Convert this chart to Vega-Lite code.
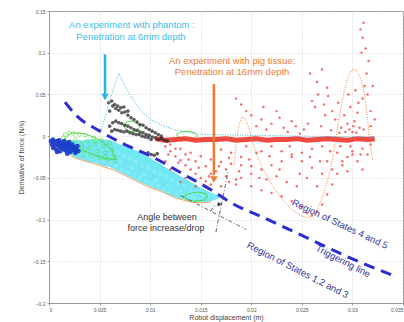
{
  "$schema": "https://vega.github.io/schema/vega-lite/v6.json",
  "width": 354,
  "height": 292,
  "autosize": "none",
  "padding": {"left": 49, "top": 11, "right": 1, "bottom": 19},
  "background": "white",
  "config": {
    "view": {"stroke": "#999", "strokeWidth": 1},
    "axis": {
      "gridColor": "#c8c8c8", "gridDash": [1, 2], "gridWidth": 0.8,
      "labelFontSize": 5, "labelColor": "#555", "labelFont": "Liberation Sans",
      "titleFontSize": 7, "titleFontWeight": "normal", "titleColor": "#444", "titleFont": "Liberation Sans",
      "domainColor": "#999", "tickColor": "#999", "tickSize": 2
    }
  },
  "encoding": {
    "x": {"field": "x", "type": "quantitative",
      "scale": {"domain": [0, 0.035], "nice": false, "zero": false},
      "axis": {"title": "Robot displacement (m)", "values": [0, 0.005, 0.01, 0.015, 0.02, 0.025, 0.03, 0.035], "format": "~g", "labelPadding": 2, "titlePadding": 1}},
    "y": {"field": "y", "type": "quantitative",
      "scale": {"domain": [-0.2, 0.15], "nice": false, "zero": false},
      "axis": {"title": "Derivative of force (N/s)", "values": [-0.2, -0.15, -0.1, -0.05, 0, 0.05, 0.1, 0.15], "format": "~g", "labelPadding": 2, "titlePadding": 8}}
  },
  "datasets": {
    "cyanband": [
      {"x": 0.0010, "y": -0.006, "y2": -0.012}, {"x": 0.0015, "y": -0.005, "y2": -0.018},
      {"x": 0.0020, "y": -0.005, "y2": -0.021}, {"x": 0.0025, "y": -0.005, "y2": -0.025},
      {"x": 0.0030, "y": -0.005, "y2": -0.027}, {"x": 0.0035, "y": -0.005, "y2": -0.029},
      {"x": 0.0040, "y": -0.004, "y2": -0.031}, {"x": 0.0045, "y": -0.004, "y2": -0.032},
      {"x": 0.0050, "y": -0.004, "y2": -0.034}, {"x": 0.0055, "y": -0.004, "y2": -0.036},
      {"x": 0.0060, "y": -0.005, "y2": -0.037}, {"x": 0.0065, "y": -0.007, "y2": -0.040},
      {"x": 0.0070, "y": -0.010, "y2": -0.043}, {"x": 0.0075, "y": -0.012, "y2": -0.046},
      {"x": 0.0080, "y": -0.014, "y2": -0.049}, {"x": 0.0085, "y": -0.017, "y2": -0.052},
      {"x": 0.0090, "y": -0.019, "y2": -0.055}, {"x": 0.0095, "y": -0.023, "y2": -0.058},
      {"x": 0.0100, "y": -0.026, "y2": -0.060}, {"x": 0.0105, "y": -0.030, "y2": -0.063},
      {"x": 0.0110, "y": -0.033, "y2": -0.065}, {"x": 0.0115, "y": -0.037, "y2": -0.068},
      {"x": 0.0120, "y": -0.041, "y2": -0.071}, {"x": 0.0125, "y": -0.044, "y2": -0.073},
      {"x": 0.0130, "y": -0.048, "y2": -0.075}, {"x": 0.0135, "y": -0.051, "y2": -0.076},
      {"x": 0.0140, "y": -0.055, "y2": -0.078}, {"x": 0.0145, "y": -0.058, "y2": -0.079},
      {"x": 0.0150, "y": -0.062, "y2": -0.079}, {"x": 0.0155, "y": -0.065, "y2": -0.079},
      {"x": 0.0160, "y": -0.068, "y2": -0.078}, {"x": 0.0165, "y": -0.070, "y2": -0.076},
      {"x": 0.0170, "y": -0.071, "y2": -0.073}
    ],
    "cyanpts": [
      {"x": 0.0012, "y": -0.009}, {"x": 0.0018, "y": -0.014}, {"x": 0.0024, "y": -0.018}, {"x": 0.0030, "y": -0.020},
      {"x": 0.0036, "y": -0.022}, {"x": 0.0042, "y": -0.026}, {"x": 0.0048, "y": -0.029}, {"x": 0.0054, "y": -0.031},
      {"x": 0.0060, "y": -0.033}, {"x": 0.0066, "y": -0.036}, {"x": 0.0072, "y": -0.040}, {"x": 0.0078, "y": -0.044},
      {"x": 0.0084, "y": -0.047}, {"x": 0.0090, "y": -0.050}, {"x": 0.0096, "y": -0.054}, {"x": 0.0102, "y": -0.057},
      {"x": 0.0108, "y": -0.060}, {"x": 0.0114, "y": -0.063}, {"x": 0.0120, "y": -0.066}, {"x": 0.0126, "y": -0.069},
      {"x": 0.0132, "y": -0.071}, {"x": 0.0138, "y": -0.073}, {"x": 0.0144, "y": -0.075}, {"x": 0.0150, "y": -0.076},
      {"x": 0.0068, "y": -0.020}, {"x": 0.0074, "y": -0.024}, {"x": 0.0080, "y": -0.027}, {"x": 0.0086, "y": -0.031},
      {"x": 0.0092, "y": -0.035}, {"x": 0.0098, "y": -0.038}, {"x": 0.0104, "y": -0.042}, {"x": 0.0110, "y": -0.046},
      {"x": 0.0116, "y": -0.049}, {"x": 0.0122, "y": -0.053}, {"x": 0.0128, "y": -0.057}, {"x": 0.0134, "y": -0.060},
      {"x": 0.0140, "y": -0.064}, {"x": 0.0146, "y": -0.067}, {"x": 0.0152, "y": -0.070}, {"x": 0.0158, "y": -0.072},
      {"x": 0.0164, "y": -0.073}, {"x": 0.0070, "y": -0.030}, {"x": 0.0082, "y": -0.038}, {"x": 0.0094, "y": -0.046},
      {"x": 0.0106, "y": -0.053}, {"x": 0.0118, "y": -0.059}, {"x": 0.0130, "y": -0.066}, {"x": 0.0142, "y": -0.071}
    ],
    "orangeedge": [
      {"x": 0.0010, "y": -0.013}, {"x": 0.0025, "y": -0.026}, {"x": 0.0050, "y": -0.035}, {"x": 0.0065, "y": -0.041},
      {"x": 0.0080, "y": -0.050}, {"x": 0.0095, "y": -0.059}, {"x": 0.0110, "y": -0.066}, {"x": 0.0125, "y": -0.074},
      {"x": 0.0140, "y": -0.079}, {"x": 0.0150, "y": -0.080}, {"x": 0.0160, "y": -0.079}
    ],
    "blue": [
      {"x": 0.0002, "y": -0.006}, {"x": 0.0003, "y": -0.010}, {"x": 0.0004, "y": -0.014}, {"x": 0.0005, "y": -0.007},
      {"x": 0.0006, "y": -0.011}, {"x": 0.0007, "y": -0.016}, {"x": 0.0008, "y": -0.006}, {"x": 0.0009, "y": -0.010},
      {"x": 0.0010, "y": -0.013}, {"x": 0.0011, "y": -0.018}, {"x": 0.0012, "y": -0.008}, {"x": 0.0013, "y": -0.012},
      {"x": 0.0014, "y": -0.015}, {"x": 0.0015, "y": -0.010}, {"x": 0.0016, "y": -0.017}, {"x": 0.0017, "y": -0.013},
      {"x": 0.0018, "y": -0.009}, {"x": 0.0019, "y": -0.016}, {"x": 0.0020, "y": -0.012}, {"x": 0.0021, "y": -0.019},
      {"x": 0.0022, "y": -0.014}, {"x": 0.0023, "y": -0.010}, {"x": 0.0024, "y": -0.017}, {"x": 0.0025, "y": -0.013},
      {"x": 0.0026, "y": -0.020}, {"x": 0.0027, "y": -0.016}, {"x": 0.0028, "y": -0.012}, {"x": 0.0029, "y": -0.018},
      {"x": 0.0004, "y": -0.004}, {"x": 0.0010, "y": -0.005}, {"x": 0.0015, "y": -0.006}, {"x": 0.0020, "y": -0.007},
      {"x": 0.0008, "y": -0.019}, {"x": 0.0018, "y": -0.021}
    ],
    "green": [
      {"x": 0.0010, "y": -0.006}, {"x": 0.0012, "y": -0.012}, {"x": 0.0014, "y": -0.002}, {"x": 0.0016, "y": 0.002},
      {"x": 0.0018, "y": -0.008}, {"x": 0.0020, "y": 0.004}, {"x": 0.0022, "y": -0.015}, {"x": 0.0024, "y": 0.003},
      {"x": 0.0026, "y": -0.004}, {"x": 0.0028, "y": -0.018}, {"x": 0.0030, "y": 0.002}, {"x": 0.0032, "y": -0.010},
      {"x": 0.0034, "y": -0.022}, {"x": 0.0036, "y": 0.001}, {"x": 0.0038, "y": -0.006}, {"x": 0.0040, "y": -0.014},
      {"x": 0.0042, "y": -0.024}, {"x": 0.0044, "y": -0.002}, {"x": 0.0046, "y": -0.010}, {"x": 0.0048, "y": -0.018},
      {"x": 0.0050, "y": -0.026}, {"x": 0.0052, "y": -0.005}, {"x": 0.0054, "y": -0.012}, {"x": 0.0056, "y": -0.020},
      {"x": 0.0058, "y": -0.028}, {"x": 0.0060, "y": -0.008}, {"x": 0.0062, "y": -0.016}, {"x": 0.0064, "y": -0.024},
      {"x": 0.0066, "y": -0.030}, {"x": 0.0030, "y": -0.013}, {"x": 0.0025, "y": -0.009}, {"x": 0.0045, "y": -0.006},
      {"x": 0.0035, "y": -0.016}, {"x": 0.0055, "y": -0.025}, {"x": 0.0020, "y": -0.010}
    ],
    "greenloops": [
      {"g": 1, "o": 1, "x": 0.0074, "y": 0.012}, {"g": 1, "o": 2, "x": 0.0077, "y": 0.017}, {"g": 1, "o": 3, "x": 0.0082, "y": 0.018},
      {"g": 1, "o": 4, "x": 0.0087, "y": 0.016}, {"g": 1, "o": 5, "x": 0.0090, "y": 0.011}, {"g": 1, "o": 6, "x": 0.0087, "y": 0.006},
      {"g": 1, "o": 7, "x": 0.0082, "y": 0.005}, {"g": 1, "o": 8, "x": 0.0077, "y": 0.007}, {"g": 1, "o": 9, "x": 0.0074, "y": 0.012},
      {"g": 2, "o": 1, "x": 0.0126, "y": 0.002}, {"g": 2, "o": 2, "x": 0.0130, "y": 0.005}, {"g": 2, "o": 3, "x": 0.0137, "y": 0.006},
      {"g": 2, "o": 4, "x": 0.0144, "y": 0.004}, {"g": 2, "o": 5, "x": 0.0147, "y": 0.000}, {"g": 2, "o": 6, "x": 0.0143, "y": -0.004},
      {"g": 2, "o": 7, "x": 0.0136, "y": -0.005}, {"g": 2, "o": 8, "x": 0.0129, "y": -0.002}, {"g": 2, "o": 9, "x": 0.0126, "y": 0.002},
      {"g": 3, "o": 1, "x": 0.0133, "y": -0.073}, {"g": 3, "o": 2, "x": 0.0138, "y": -0.069}, {"g": 3, "o": 3, "x": 0.0147, "y": -0.067},
      {"g": 3, "o": 4, "x": 0.0155, "y": -0.069}, {"g": 3, "o": 5, "x": 0.0157, "y": -0.073}, {"g": 3, "o": 6, "x": 0.0152, "y": -0.077},
      {"g": 3, "o": 7, "x": 0.0142, "y": -0.078}, {"g": 3, "o": 8, "x": 0.0135, "y": -0.076}, {"g": 3, "o": 9, "x": 0.0133, "y": -0.073},
      {"g": 4, "o": 1, "x": 0.0015, "y": -0.004}, {"g": 4, "o": 2, "x": 0.0022, "y": 0.004}, {"g": 4, "o": 3, "x": 0.0035, "y": 0.003},
      {"g": 4, "o": 4, "x": 0.0050, "y": -0.004}, {"g": 4, "o": 5, "x": 0.0062, "y": -0.016}, {"g": 4, "o": 6, "x": 0.0066, "y": -0.028},
      {"g": 4, "o": 7, "x": 0.0055, "y": -0.027}, {"g": 4, "o": 8, "x": 0.0040, "y": -0.020}, {"g": 4, "o": 9, "x": 0.0025, "y": -0.014},
      {"g": 4, "o": 10, "x": 0.0015, "y": -0.004}
    ],
    "black": [
      {"x": 0.0060, "y": 0.030}, {"x": 0.0063, "y": 0.036}, {"x": 0.0066, "y": 0.033}, {"x": 0.0069, "y": 0.031},
      {"x": 0.0072, "y": 0.028}, {"x": 0.0075, "y": 0.029}, {"x": 0.0078, "y": 0.025}, {"x": 0.0081, "y": 0.022},
      {"x": 0.0084, "y": 0.020}, {"x": 0.0087, "y": 0.017}, {"x": 0.0090, "y": 0.014}, {"x": 0.0093, "y": 0.013},
      {"x": 0.0096, "y": 0.010}, {"x": 0.0099, "y": 0.008}, {"x": 0.0102, "y": 0.006}, {"x": 0.0105, "y": 0.004},
      {"x": 0.0108, "y": 0.002}, {"x": 0.0111, "y": 0.000},
      {"x": 0.0060, "y": 0.012}, {"x": 0.0063, "y": 0.016}, {"x": 0.0066, "y": 0.018}, {"x": 0.0069, "y": 0.016},
      {"x": 0.0072, "y": 0.015}, {"x": 0.0075, "y": 0.013}, {"x": 0.0078, "y": 0.012}, {"x": 0.0081, "y": 0.010},
      {"x": 0.0084, "y": 0.008}, {"x": 0.0087, "y": 0.007}, {"x": 0.0090, "y": 0.005}, {"x": 0.0093, "y": 0.004},
      {"x": 0.0096, "y": 0.002}, {"x": 0.0099, "y": 0.001}, {"x": 0.0102, "y": -0.001}, {"x": 0.0105, "y": -0.002},
      {"x": 0.0108, "y": -0.004}, {"x": 0.0111, "y": -0.003}, {"x": 0.0114, "y": -0.005}, {"x": 0.0117, "y": -0.006},
      {"x": 0.0062, "y": 0.006}, {"x": 0.0065, "y": 0.008}, {"x": 0.0068, "y": 0.007}, {"x": 0.0071, "y": 0.006},
      {"x": 0.0074, "y": 0.005}, {"x": 0.0077, "y": 0.006}, {"x": 0.0080, "y": 0.004}, {"x": 0.0083, "y": 0.003},
      {"x": 0.0086, "y": 0.002}, {"x": 0.0089, "y": 0.002}, {"x": 0.0092, "y": 0.000}, {"x": 0.0095, "y": -0.001},
      {"x": 0.0098, "y": -0.002}, {"x": 0.0101, "y": -0.004},
      {"x": 0.0059, "y": 0.040}, {"x": 0.0062, "y": 0.042}, {"x": 0.0065, "y": 0.038}, {"x": 0.0068, "y": 0.036},
      {"x": 0.0071, "y": 0.034}, {"x": 0.0074, "y": 0.035}, {"x": 0.0078, "y": 0.030},
      {"x": 0.0098, "y": -0.020}, {"x": 0.0101, "y": -0.022}, {"x": 0.0104, "y": -0.023}, {"x": 0.0107, "y": -0.021}
    ],
    "redband": [
      {"x": 0.0105, "y": -0.003}, {"x": 0.0115, "y": -0.005}, {"x": 0.0125, "y": -0.004}, {"x": 0.0135, "y": -0.003},
      {"x": 0.0145, "y": -0.005}, {"x": 0.0155, "y": -0.004}, {"x": 0.0165, "y": -0.004}, {"x": 0.0175, "y": -0.003},
      {"x": 0.0185, "y": -0.005}, {"x": 0.0195, "y": -0.004}, {"x": 0.0205, "y": -0.003}, {"x": 0.0215, "y": -0.005},
      {"x": 0.0225, "y": -0.004}, {"x": 0.0235, "y": -0.004}, {"x": 0.0245, "y": -0.003}, {"x": 0.0255, "y": -0.005},
      {"x": 0.0265, "y": -0.004}, {"x": 0.0275, "y": -0.003}, {"x": 0.0285, "y": -0.004}, {"x": 0.0295, "y": -0.005},
      {"x": 0.0305, "y": -0.003}, {"x": 0.0315, "y": -0.004}, {"x": 0.0322, "y": -0.003}
    ],
    "red": [
      {"x": 0.0185, "y": 0.045}, {"x": 0.0190, "y": 0.038}, {"x": 0.0195, "y": 0.030}, {"x": 0.0200, "y": 0.025},
      {"x": 0.0205, "y": 0.012}, {"x": 0.0210, "y": 0.020}, {"x": 0.0212, "y": 0.035}, {"x": 0.0215, "y": 0.008},
      {"x": 0.0220, "y": 0.015}, {"x": 0.0225, "y": 0.030}, {"x": 0.0228, "y": 0.022}, {"x": 0.0232, "y": 0.010},
      {"x": 0.0236, "y": 0.005}, {"x": 0.0240, "y": 0.018}, {"x": 0.0244, "y": 0.012}, {"x": 0.0248, "y": 0.003},
      {"x": 0.0252, "y": 0.008}, {"x": 0.0256, "y": 0.015}, {"x": 0.0258, "y": 0.075}, {"x": 0.0260, "y": 0.042},
      {"x": 0.0263, "y": 0.035}, {"x": 0.0265, "y": 0.065}, {"x": 0.0266, "y": 0.050}, {"x": 0.0270, "y": 0.080},
      {"x": 0.0272, "y": 0.038}, {"x": 0.0273, "y": 0.025}, {"x": 0.0275, "y": 0.058}, {"x": 0.0276, "y": 0.048},
      {"x": 0.0280, "y": 0.030}, {"x": 0.0283, "y": 0.020}, {"x": 0.0286, "y": 0.040}, {"x": 0.0289, "y": 0.010},
      {"x": 0.0292, "y": 0.025}, {"x": 0.0295, "y": 0.015}, {"x": 0.0298, "y": 0.035}, {"x": 0.0300, "y": 0.005},
      {"x": 0.0302, "y": 0.018}, {"x": 0.0305, "y": 0.028}, {"x": 0.0307, "y": 0.010}, {"x": 0.0310, "y": 0.045},
      {"x": 0.0312, "y": 0.060}, {"x": 0.0314, "y": 0.075}, {"x": 0.0316, "y": 0.090}, {"x": 0.0313, "y": 0.105},
      {"x": 0.0310, "y": 0.118}, {"x": 0.0308, "y": 0.128}, {"x": 0.0311, "y": 0.136}, {"x": 0.0309, "y": 0.100},
      {"x": 0.0315, "y": 0.050}, {"x": 0.0318, "y": 0.030}, {"x": 0.0320, "y": 0.060}, {"x": 0.0322, "y": 0.020},
      {"x": 0.0318, "y": 0.012}, {"x": 0.0306, "y": 0.040}, {"x": 0.0303, "y": 0.055}, {"x": 0.0296, "y": 0.050},
      {"x": 0.0301, "y": 0.012}, {"x": 0.0297, "y": 0.008}, {"x": 0.0304, "y": 0.004}, {"x": 0.0311, "y": 0.008},
      {"x": 0.0293, "y": 0.005}, {"x": 0.0287, "y": 0.004}, {"x": 0.0279, "y": 0.007}, {"x": 0.0269, "y": 0.012},
      {"x": 0.0115, "y": -0.012}, {"x": 0.0120, "y": -0.018}, {"x": 0.0125, "y": -0.024}, {"x": 0.0130, "y": -0.029},
      {"x": 0.0135, "y": -0.035}, {"x": 0.0140, "y": -0.040}, {"x": 0.0145, "y": -0.045}, {"x": 0.0150, "y": -0.050},
      {"x": 0.0155, "y": -0.054}, {"x": 0.0160, "y": -0.058},
      {"x": 0.0120, "y": -0.010}, {"x": 0.0130, "y": -0.015}, {"x": 0.0140, "y": -0.020}, {"x": 0.0150, "y": -0.024},
      {"x": 0.0160, "y": -0.028}, {"x": 0.0170, "y": -0.031}, {"x": 0.0180, "y": -0.033}, {"x": 0.0190, "y": -0.035},
      {"x": 0.0200, "y": -0.036},
      {"x": 0.0125, "y": -0.015}, {"x": 0.0135, "y": -0.022}, {"x": 0.0145, "y": -0.030}, {"x": 0.0155, "y": -0.036},
      {"x": 0.0165, "y": -0.042}, {"x": 0.0175, "y": -0.048}, {"x": 0.0185, "y": -0.052},
      {"x": 0.0170, "y": -0.060}, {"x": 0.0178, "y": -0.055}, {"x": 0.0185, "y": -0.058}, {"x": 0.0190, "y": -0.050},
      {"x": 0.0200, "y": -0.045}, {"x": 0.0210, "y": -0.040}, {"x": 0.0220, "y": -0.035}, {"x": 0.0230, "y": -0.030},
      {"x": 0.0240, "y": -0.025}, {"x": 0.0250, "y": -0.020}, {"x": 0.0260, "y": -0.015}, {"x": 0.0270, "y": -0.012},
      {"x": 0.0200, "y": -0.060}, {"x": 0.0210, "y": -0.065}, {"x": 0.0220, "y": -0.068}, {"x": 0.0230, "y": -0.072},
      {"x": 0.0240, "y": -0.078}, {"x": 0.0250, "y": -0.085}, {"x": 0.0255, "y": -0.092}, {"x": 0.0260, "y": -0.095},
      {"x": 0.0265, "y": -0.090}, {"x": 0.0270, "y": -0.082}, {"x": 0.0275, "y": -0.070}, {"x": 0.0280, "y": -0.058},
      {"x": 0.0285, "y": -0.045}, {"x": 0.0290, "y": -0.035}, {"x": 0.0295, "y": -0.025}, {"x": 0.0300, "y": -0.018},
      {"x": 0.0220, "y": -0.012}, {"x": 0.0230, "y": -0.018}, {"x": 0.0240, "y": -0.022}, {"x": 0.0250, "y": -0.030},
      {"x": 0.0260, "y": -0.038}, {"x": 0.0270, "y": -0.045}, {"x": 0.0280, "y": -0.040}, {"x": 0.0290, "y": -0.030},
      {"x": 0.0300, "y": -0.022}, {"x": 0.0310, "y": -0.015},
      {"x": 0.0125, "y": -0.040}, {"x": 0.0135, "y": -0.050}, {"x": 0.0145, "y": -0.060}, {"x": 0.0160, "y": -0.045},
      {"x": 0.0175, "y": -0.040}, {"x": 0.0190, "y": -0.025}, {"x": 0.0205, "y": -0.020}, {"x": 0.0215, "y": -0.052},
      {"x": 0.0225, "y": -0.048}, {"x": 0.0235, "y": -0.055}, {"x": 0.0245, "y": -0.060}, {"x": 0.0255, "y": -0.050},
      {"x": 0.0265, "y": -0.060}, {"x": 0.0275, "y": -0.030}, {"x": 0.0285, "y": -0.020}, {"x": 0.0295, "y": -0.042},
      {"x": 0.0305, "y": -0.030}, {"x": 0.0310, "y": -0.040}, {"x": 0.0315, "y": -0.022}, {"x": 0.0318, "y": -0.010},
      {"x": 0.0170, "y": -0.016}, {"x": 0.0180, "y": -0.020}, {"x": 0.0195, "y": -0.012}, {"x": 0.0210, "y": -0.018},
      {"x": 0.0115, "y": -0.030}, {"x": 0.0120, "y": -0.040}, {"x": 0.0130, "y": -0.055},
      {"x": 0.0118, "y": -0.022}, {"x": 0.0128, "y": -0.032}, {"x": 0.0138, "y": -0.028}, {"x": 0.0148, "y": -0.038},
      {"x": 0.0158, "y": -0.048}, {"x": 0.0168, "y": -0.036}, {"x": 0.0178, "y": -0.026}, {"x": 0.0188, "y": -0.042},
      {"x": 0.0198, "y": -0.028}, {"x": 0.0208, "y": -0.050}, {"x": 0.0218, "y": -0.024}, {"x": 0.0228, "y": -0.040},
      {"x": 0.0238, "y": -0.012}, {"x": 0.0248, "y": -0.045}, {"x": 0.0258, "y": -0.025}, {"x": 0.0268, "y": -0.030},
      {"x": 0.0278, "y": -0.018}, {"x": 0.0288, "y": -0.012}, {"x": 0.0298, "y": -0.012}, {"x": 0.0308, "y": -0.022}
    ],
    "orangecurve": [
      {"o": 1, "x": 0.0183, "y": -0.035}, {"o": 2, "x": 0.0185, "y": -0.010}, {"o": 3, "x": 0.0187, "y": 0.008},
      {"o": 4, "x": 0.0189, "y": 0.018}, {"o": 5, "x": 0.0191, "y": 0.023}, {"o": 6, "x": 0.0194, "y": 0.021},
      {"o": 7, "x": 0.0197, "y": 0.012}, {"o": 8, "x": 0.0200, "y": -0.002}, {"o": 9, "x": 0.0204, "y": -0.018},
      {"o": 10, "x": 0.0210, "y": -0.036}, {"o": 11, "x": 0.0220, "y": -0.058}, {"o": 12, "x": 0.0230, "y": -0.075},
      {"o": 13, "x": 0.0240, "y": -0.088}, {"o": 14, "x": 0.0250, "y": -0.096}, {"o": 15, "x": 0.0257, "y": -0.098},
      {"o": 16, "x": 0.0263, "y": -0.092}, {"o": 17, "x": 0.0270, "y": -0.075}, {"o": 18, "x": 0.0275, "y": -0.055},
      {"o": 19, "x": 0.0280, "y": -0.030}, {"o": 20, "x": 0.0284, "y": 0.000}, {"o": 21, "x": 0.0288, "y": 0.030},
      {"o": 22, "x": 0.0292, "y": 0.055}, {"o": 23, "x": 0.0296, "y": 0.072}, {"o": 24, "x": 0.0300, "y": 0.080},
      {"o": 25, "x": 0.0304, "y": 0.079}, {"o": 26, "x": 0.0308, "y": 0.070}, {"o": 27, "x": 0.0312, "y": 0.050},
      {"o": 28, "x": 0.0315, "y": 0.020}, {"o": 29, "x": 0.0317, "y": -0.005}, {"o": 30, "x": 0.0320, "y": -0.030}
    ],
    "envelope": [
      {"o": 1, "x": 0.0052, "y": 0.008}, {"o": 2, "x": 0.0058, "y": 0.035}, {"o": 3, "x": 0.0064, "y": 0.058},
      {"o": 4, "x": 0.0069, "y": 0.0755}, {"o": 5, "x": 0.0074, "y": 0.062}, {"o": 6, "x": 0.0083, "y": 0.044},
      {"o": 7, "x": 0.0091, "y": 0.030}, {"o": 8, "x": 0.0100, "y": 0.020}, {"o": 9, "x": 0.0112, "y": 0.013},
      {"o": 10, "x": 0.0123, "y": 0.008}, {"o": 11, "x": 0.0135, "y": 0.005}, {"o": 12, "x": 0.0150, "y": 0.0025},
      {"o": 13, "x": 0.0170, "y": 0.0015}, {"o": 14, "x": 0.0200, "y": 0.001}, {"o": 15, "x": 0.0250, "y": 0.000},
      {"o": 16, "x": 0.0320, "y": -0.001}
    ],
    "trigger": [
      {"o": 1, "x": 0.00158, "y": 0.0408}, {"o": 2, "x": 0.00277, "y": 0.0240}, {"o": 3, "x": 0.00504, "y": 0.0060},
      {"o": 4, "x": 0.00702, "y": -0.0072}, {"o": 5, "x": 0.01028, "y": -0.0252}, {"o": 6, "x": 0.01364, "y": -0.0480},
      {"o": 7, "x": 0.01622, "y": -0.0659}, {"o": 8, "x": 0.0179, "y": -0.0791}, {"o": 9, "x": 0.02155, "y": -0.0995},
      {"o": 10, "x": 0.0258, "y": -0.1235}, {"o": 11, "x": 0.03006, "y": -0.1475}, {"o": 12, "x": 0.0342, "y": -0.1679}
    ],
    "angle": [
      {"g": 1, "x": 0.0130, "y": -0.071}, {"g": 1, "x": 0.0195, "y": -0.112},
      {"g": 2, "x": 0.0177, "y": -0.043}, {"g": 2, "x": 0.0165, "y": -0.115},
      {"g": 3, "x": 0.0160, "y": -0.090}, {"g": 3, "x": 0.0163, "y": -0.084}, {"g": 3, "x": 0.0168, "y": -0.0815}
    ]
  },
  "layer": [
    {"data": {"name": "cyanband"}, "mark": {"type": "area", "color": "#62e4f2", "opacity": 0.9},
      "encoding": {"y2": {"field": "y2"}}},
    {"data": {"name": "cyanpts"}, "mark": {"type": "point", "color": "#b8f4fa", "size": 10, "strokeWidth": 0.8}},
    {"data": {"name": "orangeedge"}, "mark": {"type": "line", "color": "#f08a3c", "strokeWidth": 0.8}, "encoding": {}},
    {"data": {"name": "green"}, "mark": {"type": "point", "color": "#4fdc3c", "size": 14, "strokeWidth": 0.8}},
    {"data": {"name": "greenloops"}, "mark": {"type": "line", "color": "#4fdc3c", "strokeWidth": 1}, "encoding": {"detail": {"field": "g"}, "order": {"field": "o"}}},
    {"data": {"name": "blue"}, "mark": {"type": "circle", "color": "#1838c8", "size": 22, "opacity": 0.9}},
    {"data": {"name": "redband"}, "mark": {"type": "line", "color": "#ec2a20", "strokeWidth": 5, "opacity": 0.85}, "encoding": {}},
    {"data": {"name": "red"}, "mark": {"type": "circle", "color": "#ee3a34", "size": 6, "opacity": 0.75}},
    {"data": {"name": "orangecurve"}, "mark": {"type": "line", "color": "#f0843a", "strokeWidth": 1, "strokeDash": [1, 1.5]}, "encoding": {"order": {"field": "o"}}},
    {"data": {"name": "black"}, "mark": {"type": "circle", "color": "#1a1a1a", "size": 13}},
    {"data": {"name": "envelope"}, "mark": {"type": "line", "color": "#3ab4e2", "strokeWidth": 1, "strokeDash": [1, 1.5]}, "encoding": {"order": {"field": "o"}}},
    {"data": {"name": "trigger"}, "mark": {"type": "line", "color": "#2b2bd6", "strokeWidth": 3, "strokeDash": [11, 7], "interpolate": "monotone"}, "encoding": {"order": {"field": "o"}}},
    {"data": {"name": "angle"}, "mark": {"type": "line", "color": "#555", "strokeWidth": 0.9, "strokeDash": [4, 2, 1, 2]}, "encoding": {"detail": {"field": "g"}}},
    {"data": {"values": [{"x": 0.0169, "y": -0.0815}]}, "mark": {"type": "point", "shape": "triangle-right", "filled": true, "color": "#111", "size": 25}},
    {"data": {"values": [{"x": 0.00554, "y": 0.098, "y2": 0.050}]}, "mark": {"type": "rule", "color": "#2ab2e8", "strokeWidth": 2.5}, "encoding": {"y2": {"field": "y2"}}},
    {"data": {"values": [{"x": 0.00554, "y": 0.047}]}, "mark": {"type": "point", "shape": "triangle-down", "filled": true, "color": "#2ab2e8", "size": 55, "opacity": 1}},
    {"data": {"values": [{"x": 0.0163, "y": 0.0623, "y2": -0.047}]}, "mark": {"type": "rule", "color": "#f07a30", "strokeWidth": 2.5}, "encoding": {"y2": {"field": "y2"}}},
    {"data": {"values": [{"x": 0.0163, "y": -0.052}]}, "mark": {"type": "point", "shape": "triangle-down", "filled": true, "color": "#f07a30", "size": 55, "opacity": 1}},
    {"data": {"values": [{"x": 0.0082, "y": 0.133, "t": "An experiment with phantom :"}, {"x": 0.0081, "y": 0.1187, "t": "Penetration at 6mm depth"}]},
      "mark": {"type": "text", "color": "#3cbce8", "fontSize": 9.5, "font": "Liberation Sans"}, "encoding": {"text": {"field": "t"}}},
    {"data": {"values": [{"x": 0.0181, "y": 0.090, "t": "An experiment with pig tissue:"}, {"x": 0.0181, "y": 0.0767, "t": "Penetration at 16mm depth"}]},
      "mark": {"type": "text", "color": "#f07a30", "fontSize": 9.5, "font": "Liberation Sans"}, "encoding": {"text": {"field": "t"}}},
    {"data": {"values": [{"x": 0.01167, "y": -0.0971, "t": "Angle between"}, {"x": 0.01157, "y": -0.1103, "t": "force increase/drop"}]},
      "mark": {"type": "text", "color": "#333", "fontSize": 9, "font": "Liberation Sans"}, "encoding": {"text": {"field": "t"}}},
    {"data": {"values": [{"x": 0.02877, "y": -0.1055, "t": "Region of States 4 and 5"}]},
      "mark": {"type": "text", "color": "#34349a", "fontSize": 9.5, "font": "Liberation Sans", "angle": 25}, "encoding": {"text": {"field": "t"}}},
    {"data": {"values": [{"x": 0.02907, "y": -0.150, "t": "Triggering line"}, {"x": 0.0246, "y": -0.1607, "t": "Region of States 1,2 and 3"}]},
      "mark": {"type": "text", "color": "#34349a", "fontSize": 9.5, "font": "Liberation Sans", "angle": 27}, "encoding": {"text": {"field": "t"}}}
  ]
}
